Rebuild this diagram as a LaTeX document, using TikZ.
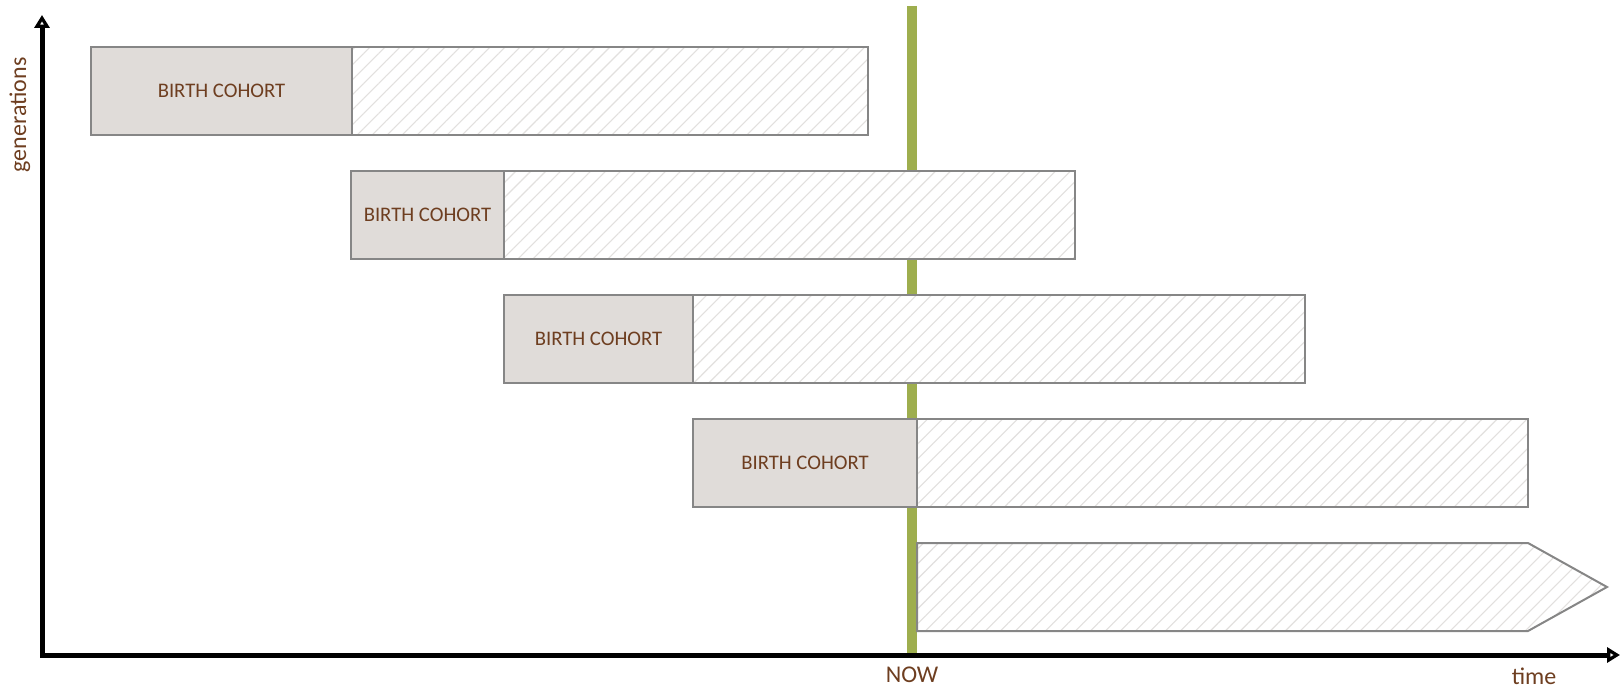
\documentclass[tikz,border=0pt]{standalone}
\usepackage{fontspec}
\setmainfont{Carlito}
\usetikzlibrary{arrows.meta,patterns.meta}
\definecolor{nowgreen}{RGB}{158,174,78}
\definecolor{cohortfill}{RGB}{224,220,217}
\definecolor{boxline}{RGB}{134,134,134}
\definecolor{labelbrown}{RGB}{110,62,32}
\definecolor{hatchgray}{RGB}{226,224,222}
\begin{document}
\begin{tikzpicture}[x=1pt,y=-1pt,
  cohortbox/.style={draw=boxline, line width=2pt, fill=cohortfill, anchor=north west,
    minimum height=88pt, inner sep=0pt, outer sep=0pt, text=labelbrown,
    font=\fontsize{20.7}{24}\selectfont},
  hatchfill/.style={preaction={fill=white},
    pattern={Lines[angle=45,distance=10.6pt,line width=1.1pt]}, pattern color=hatchgray},
  hatchbox/.style={hatchfill, draw=boxline, line width=2pt, anchor=north west,
    minimum height=88pt, inner sep=0pt, outer sep=0pt},
  axisline/.style={line width=5pt, line join=miter,
    {Triangle[open,length=13pt,width=15pt,line width=3.5pt]}-{Triangle[open,length=13pt,width=15pt,line width=3.5pt]}},
  axislabel/.style={text=labelbrown, font=\fontsize{24}{28}\selectfont, inner sep=0pt},
  nowline/.style={draw=nowgreen, line width=10pt}
]
\useasboundingbox (0,0) rectangle (1623,687);

% NOW line
\coordinate (nowtop) at (912,6);
\coordinate (nowbot) at (912,655);
\draw[nowline] (nowtop) -- (nowbot);

% axes
\coordinate (origin) at (42,655);
\coordinate (ytip) at (42,15);
\coordinate (xtip) at (1620,655);
\draw[axisline] (ytip) -- (origin) -- (xtip);

% row 1
\node[cohortbox, minimum width=261pt] (c1) at (91,47) {BIRTH COHORT};
\node[hatchbox, minimum width=516pt] (h1) at (c1.north east) {};
% row 2
\node[cohortbox, minimum width=153pt] (c2) at (351,171) {BIRTH COHORT};
\node[hatchbox, minimum width=571pt] (h2) at (c2.north east) {};
% row 3
\node[cohortbox, minimum width=189pt] (c3) at (504,295) {BIRTH COHORT};
\node[hatchbox, minimum width=612pt] (h3) at (c3.north east) {};
% row 4
\node[cohortbox, minimum width=224pt] (c4) at (693,419) {BIRTH COHORT};
\node[hatchbox, minimum width=611pt] (h4) at (c4.north east) {};
% row 5 (open-ended future)
\coordinate (f1) at (917,543);
\coordinate (f2) at (1528,543);
\coordinate (f3) at (1607,587);
\coordinate (f4) at (1528,631);
\coordinate (f5) at (917,631);
\draw[hatchfill, draw=boxline, line width=2pt] (f1) -- (f2) -- (f3) -- (f4) -- (f5) -- cycle;

% labels
\node[axislabel, rotate=90] (ylab) at (20,115) {generations};
\node[axislabel] (nowlab) at (912,675) {NOW};
\node[axislabel] (xlab) at (1534,676) {time};
\end{tikzpicture}
\end{document}
